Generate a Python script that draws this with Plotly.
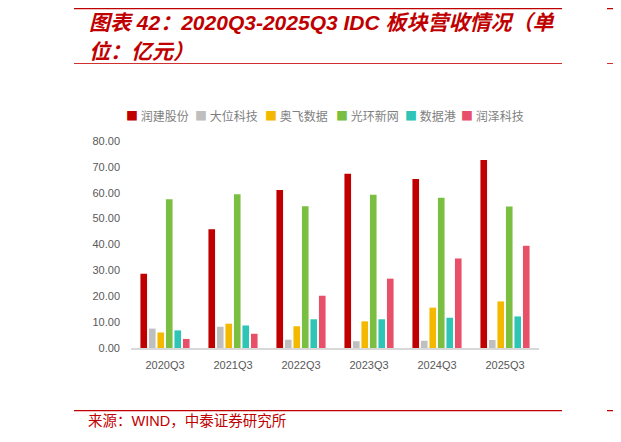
import plotly.graph_objects as go

### Data (亿元)

quarters= ['2020Q3', '2021Q3', '2022Q3', '2023Q3', '2024Q3', '2025Q3']

runjian= [28.7, 45.9, 61.1, 67.3, 65.3, 72.7]
dawei= [7.5, 8.2, 3.2, 2.6, 2.8, 3.1]
aofei= [6.0, 9.4, 8.4, 10.3, 15.6, 18.0]
guanghuan= [57.5, 59.4, 54.8, 59.2, 58.1, 54.7]
shujugang= [6.8, 8.7, 11.1, 11.1, 11.7, 12.2]
runze= [3.5, 5.5, 20.2, 26.8, 34.6, 39.5]

names= ['润建股份', '大位科技', '奥飞数据', '光环新网', '数据港', '润泽科技']
colors= ['#C00000', '#BFBFBF', '#F5B800', '#7BBF42', '#2EC4B6', '#E8506A']

yticks= [0, 10, 20, 30, 40, 50, 60, 70, 80]

### Page geometry (page body has an 8px margin)

OFF= 8
W, H= 621, 442
PW, PH= 408, 207
L, T= 131 - OFF, 141 - OFF
R, B= W - L - PW, H - T - PH

def px(x):
    return (x - OFF - L)/PW

def py(y):
    return (T + PH - (y - OFF))/PH

red= '#C00000'
cjk= 'Liberation Sans, Noto Sans CJK SC'

fig= go.Figure()
for name, vals, col in zip(names, [runjian, dawei, aofei, guanghuan, shujugang, runze], colors):
    fig.add_trace(go.Bar(
        x= quarters,
        y= vals,
        name= name,
        marker= dict(color= col, line= dict(width= 0)),
        ))

fig.update_layout(
    width= W, height= H,
    margin= dict(l= L, r= R, t= T, b= B),
    paper_bgcolor= 'white', plot_bgcolor= 'white',
    barmode= 'group', bargap= 0.25, bargroupgap= 0.22,
    showlegend= False,
    font= dict(family= cjk, color= '#595959', size= 11),
    )

fig.update_xaxes(showgrid= False, showline= True, linecolor= '#D9D9D9', linewidth= 1.5,
                 ticks= '', tickfont= dict(size= 11, color= '#595959'), ticklabelstandoff= 6)
fig.update_yaxes(range= [0, 80], tickvals= yticks, tickformat= '.2f', showgrid= False,
                 zeroline= False, showline= False, ticks= '',
                 tickfont= dict(size= 11, color= '#595959'), ticklabelstandoff= 10)

## legend drawn as text items
leg_x= [124, 193, 263, 334, 403, 459]
for name, col, x in zip(names, colors, leg_x):
    fig.add_annotation(
        x= px(x), y= py(115), xref= 'paper', yref= 'paper',
        xanchor= 'left', yanchor= 'middle', showarrow= False,
        text= f"<span style='color:{col}'>■</span> {name}",
        font= dict(family= 'Noto Sans CJK SC', size= 12, color= '#7F7F7F'),
        )

## title
fig.add_annotation(
    x= px(87), y= py(23), xref= 'paper', yref= 'paper',
    xanchor= 'left', yanchor= 'middle', showarrow= False,
    text= '<b><i>图表 42：2020Q3-2025Q3 IDC 板块营收情况（单</i></b>',
    font= dict(family= cjk, size= 21, color= red),
    )
fig.add_annotation(
    x= px(87), y= py(51), xref= 'paper', yref= 'paper',
    xanchor= 'left', yanchor= 'middle', showarrow= False,
    text= '<b><i>位：亿元）</i></b>',
    font= dict(family= cjk, size= 21, color= red),
    )

## source
fig.add_annotation(
    x= px(86), y= py(421), xref= 'paper', yref= 'paper',
    xanchor= 'left', yanchor= 'middle', showarrow= False,
    text= '来源：WIND，中泰证券研究所',
    font= dict(family= cjk, size= 14.5, color= red),
    )

## rules
for x0, x1 in [(74, 562), (607, 640)]:
    fig.add_shape(type= 'line', xref= 'paper', yref= 'paper',
                  x0= px(x0), x1= px(x1), y0= py(7.8), y1= py(7.8),
                  line= dict(color= red, width= 3))
    fig.add_shape(type= 'line', xref= 'paper', yref= 'paper',
                  x0= px(x0), x1= px(x1), y0= py(63.5), y1= py(63.5),
                  line= dict(color= '#D03030', width= 1.2))
    fig.add_shape(type= 'line', xref= 'paper', yref= 'paper',
                  x0= px(x0), x1= px(x1), y0= py(410.7), y1= py(410.7),
                  line= dict(color= red, width= 1.2))

fig.write_html('out.html')
